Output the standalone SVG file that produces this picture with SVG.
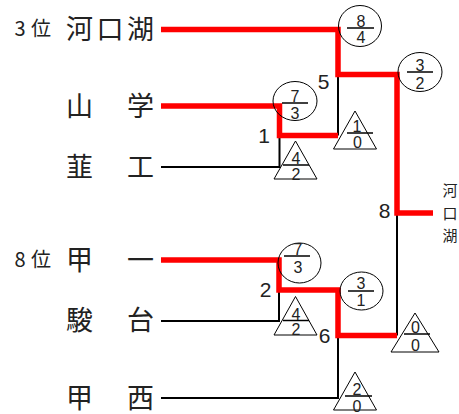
<svg xmlns="http://www.w3.org/2000/svg" width="459" height="414" viewBox="0 0 459 414">
<style>
.team{font-family:"Noto Sans CJK JP","Noto Sans",sans-serif;font-size:27px;fill:#222;text-anchor:middle}
.rank{font-family:"Noto Sans CJK JP","Noto Sans",sans-serif;font-size:20px;fill:#222;text-anchor:middle}
.win{font-family:"Noto Sans CJK JP","Noto Sans",sans-serif;font-size:15px;fill:#222;text-anchor:middle}
.num{font-family:"Liberation Sans",Arial,sans-serif;font-size:21px;fill:#222;text-anchor:middle}
.fr{font-family:"Liberation Sans",Arial,sans-serif;font-size:16px;fill:#222;text-anchor:middle}
.red{fill:none;stroke:#ff0000;stroke-width:5.5}
.blk{fill:none;stroke:#000;stroke-width:2}
.mark{fill:none;stroke:#000;stroke-width:1}
.bar{stroke:#000;stroke-width:1.5}
</style>
<g id="teams">
<text class="rank" y="35.5"><tspan x="20">3</tspan><tspan x="41">位</tspan></text>
<text class="team" y="38.5"><tspan x="79.5">河</tspan><tspan x="110">口</tspan><tspan x="140.5">湖</tspan></text>
<text class="team" y="116"><tspan x="79.5">山</tspan><tspan x="140.5">学</tspan></text>
<text class="team" y="176.5"><tspan x="79.5">韮</tspan><tspan x="140.5">工</tspan></text>
<text class="rank" y="266.5"><tspan x="20">8</tspan><tspan x="41">位</tspan></text>
<text class="team" y="269.5"><tspan x="79.5">甲</tspan><tspan x="140.5">一</tspan></text>
<text class="team" y="329.5"><tspan x="79.5">駿</tspan><tspan x="140.5">台</tspan></text>
<text class="team" y="407.5"><tspan x="79.5">甲</tspan><tspan x="140.5">西</tspan></text>
<text class="win" x="450" y="196">河</text>
<text class="win" x="450" y="218.5">口</text>
<text class="win" x="450" y="240.5">湖</text>
</g>
<g id="connectors">
<path class="blk" d="M161,167 H279.5 V135.5"/>
<path class="blk" d="M338,74.5 V135.5"/>
<path class="blk" d="M161,321 H279 V290"/>
<path class="blk" d="M161,398 H338 V335.5"/>
<path class="blk" d="M397,213 V335.5"/>
<path class="red" d="M161,29.5 H338 V74.5 H397 V213 H433"/>
<path class="red" d="M161,106 H279.5 V135.5 H338"/>
<path class="red" d="M161,260 H279 V290 H338 V335.5 H397"/>
</g>
<g id="match-labels">
<text class="num" x="323.5" y="89">5</text>
<text class="num" x="264" y="143">1</text>
<text class="num" x="384.5" y="218">8</text>
<text class="num" x="265.5" y="297">2</text>
<text class="num" x="324.5" y="343">6</text>
</g>
<g id="score-8-4">
<ellipse class="mark" cx="360" cy="26" rx="21.5" ry="20.5"/>
<line class="bar" x1="347" y1="28" x2="374" y2="28"/>
<text class="fr" x="361" y="27">8</text><text class="fr" x="361" y="43">4</text>
</g>
<g id="score-3-2">
<ellipse class="mark" cx="420" cy="72" rx="22" ry="19.5"/>
<line class="bar" x1="407" y1="72" x2="433" y2="72"/>
<text class="fr" x="420" y="71">3</text><text class="fr" x="420" y="88.5">2</text>
</g>
<g id="score-7-3-a">
<ellipse class="mark" cx="295" cy="101" rx="22" ry="19.5"/>
<line class="bar" x1="282" y1="103" x2="308" y2="103"/>
<text class="fr" x="295" y="102">7</text><text class="fr" x="295" y="118.5">3</text>
</g>
<g id="score-1-0">
<polygon class="mark" points="355,111 333.5,149 376.5,149"/>
<line class="bar" x1="347" y1="133" x2="373" y2="133"/>
<text class="fr" x="357" y="132">1</text><text class="fr" x="357.5" y="147.5">0</text>
</g>
<g id="score-4-2-a">
<polygon class="mark" points="295.5,141 274,179 317,179"/>
<line class="bar" x1="283" y1="165" x2="309" y2="165"/>
<text class="fr" x="296" y="163.5">4</text><text class="fr" x="296" y="179.5">2</text>
</g>
<g id="score-7-3-b">
<ellipse class="mark" cx="299.5" cy="263" rx="21.5" ry="20"/>
<line class="bar" x1="284" y1="256" x2="310" y2="256"/>
<text class="fr" x="298" y="255">7</text><text class="fr" x="298" y="273">3</text>
</g>
<g id="score-3-1">
<ellipse class="mark" cx="361.5" cy="291" rx="21.5" ry="19"/>
<line class="bar" x1="348" y1="291" x2="374" y2="291"/>
<text class="fr" x="361" y="288.5">3</text><text class="fr" x="361" y="306">1</text>
</g>
<g id="score-4-2-b">
<polygon class="mark" points="295.5,296.5 274,335 317,335"/>
<line class="bar" x1="283" y1="320.5" x2="309" y2="320.5"/>
<text class="fr" x="296" y="319.5">4</text><text class="fr" x="296" y="335">2</text>
</g>
<g id="score-0-0">
<polygon class="mark" points="415,313 391,352 439,352"/>
<line class="bar" x1="404" y1="334" x2="430" y2="334"/>
<text class="fr" x="415.5" y="333">0</text><text class="fr" x="415.5" y="350.5">0</text>
</g>
<g id="score-2-0">
<polygon class="mark" points="355,372 333.5,410 376.5,410"/>
<line class="bar" x1="345" y1="396" x2="372" y2="396"/>
<text class="fr" x="357" y="395">2</text><text class="fr" x="357" y="412">0</text>
</g>
</svg>
